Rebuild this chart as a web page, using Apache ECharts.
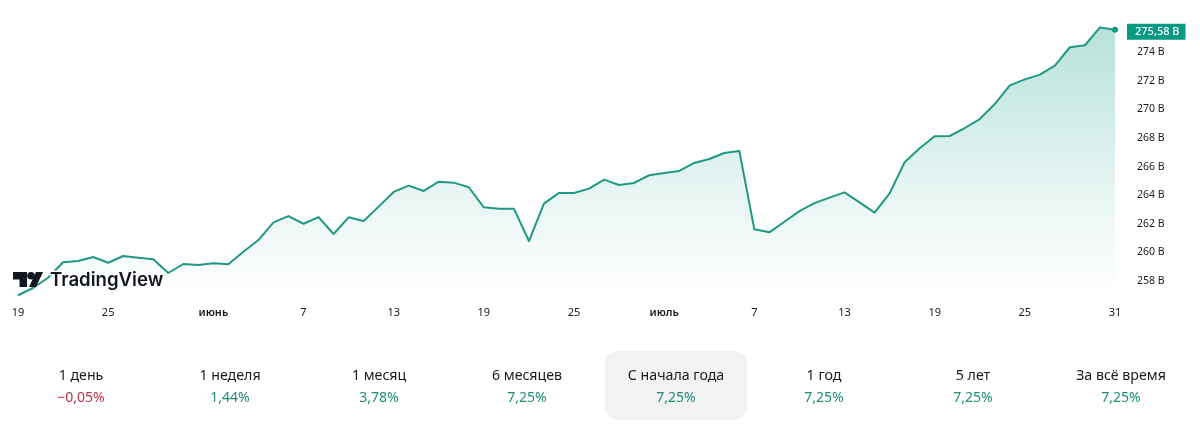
<!DOCTYPE html>
<html><head><meta charset="utf-8">
<style>html,body{margin:0;padding:0;background:#fff}#c{width:1200px;height:435px}</style>
<script src="https://cdn.jsdelivr.net/npm/echarts@6/dist/echarts.min.js"></script>
</head><body><div id="c"></div>
<script>
const tickLabels = {0:'19',6:'25',13:'{b|июнь}',19:'7',25:'13',31:'19',37:'25',43:'{b|июль}',49:'7',55:'13',61:'19',67:'25',73:'31'};
const values = [256.98,257.49,258.21,259.29,259.38,259.66,259.26,259.73,259.61,259.50,258.54,259.17,259.10,259.22,259.15,260.03,260.85,262.09,262.53,261.99,262.46,261.27,262.44,262.18,263.19,264.22,264.66,264.29,264.94,264.87,264.55,263.14,263.05,263.05,260.78,263.40,264.15,264.15,264.45,265.08,264.71,264.85,265.39,265.55,265.69,266.25,266.53,266.95,267.09,261.60,261.39,262.13,262.88,263.44,263.82,264.19,263.49,262.77,264.12,266.30,267.28,268.12,268.14,268.70,269.33,270.38,271.69,272.11,272.44,273.07,274.36,274.50,275.75,275.58];
const categories = values.map((_, i) => String(i));
const lastLabel = '275,58 B';
const periodLabels = ['1 день','1 неделя','1 месяц','6 месяцев','С начала года','1 год','5 лет','За всё время'];
const periodValues = ['−0,05%','1,44%','3,78%','7,25%','7,25%','7,25%','7,25%','7,25%'];
const periodCenters = [81,230,379,527,676,824,973,1121];
const FONT = '"Noto Sans", sans-serif';
const GREEN = '#1f8c7a', RED = '#b8334d';

const graphic = [
  {type:'rect',z:0,shape:{x:605,y:351,width:142,height:69,r:13},style:{fill:'#f2f2f2'}}
];
periodLabels.forEach((t,i)=>{
  graphic.push({type:'text',x:periodCenters[i],y:376,style:{text:t,fill:'#1a1a1a',font:'14.2px '+FONT,align:'center',verticalAlign:'middle'}});
  graphic.push({type:'text',x:periodCenters[i],y:398.5,style:{text:periodValues[i],fill:i===0?RED:GREEN,font:'14px '+FONT,align:'center',verticalAlign:'middle'}});
});
// TradingView watermark
graphic.push(
  {type:'polygon',z:20,shape:{points:[[13,272],[27,272],[27,287],[19.5,287],[19.5,279.5],[13,279.5]]},style:{fill:'#131722'}},
  {type:'circle',z:20,shape:{cx:31,cy:275.8,r:3.8},style:{fill:'#131722'}},
  {type:'polygon',z:20,shape:{points:[[29,287],[36,272],[43,272],[36,287]]},style:{fill:'#131722'}},
  {type:'text',z:20,x:50,y:280,style:{text:'TradingView',fill:'#fff',font:'600 18.6px Inter, sans-serif',verticalAlign:'middle',stroke:'#fff',lineWidth:3}},
  {type:'text',z:21,x:50,y:280,style:{text:'TradingView',fill:'#131722',font:'600 18.6px Inter, sans-serif',verticalAlign:'middle'}}
);

const chart = echarts.init(document.getElementById('c'));
chart.setOption({
  animation:false,
  backgroundColor:'#fff',
  textStyle:{fontFamily:FONT},
  grid:{left:18,right:85,top:9.57,height:299.67},
  xAxis:{type:'category',data:categories,boundaryGap:false,
    axisLine:{show:false},axisTick:{show:false},splitLine:{show:false},
    axisLabel:{interval:i=>tickLabels[i]!==undefined,formatter:(v,i)=>tickLabels[i]||'',
      color:'#1a1a1a',fontSize:11,margin:-2,hideOverlap:false,showMinLabel:true,showMaxLabel:true,
      rich:{b:{fontSize:11,fontWeight:600,color:'#1a1a1a'}}}},
  yAxis:{type:'value',position:'right',min:256,max:277,interval:2,
    axisLine:{show:false},axisTick:{show:false},splitLine:{show:false},
    axisLabel:{formatter:v=>(v===256||v>=276)?'':v+' B',color:'#1a1a1a',fontSize:10.5,margin:22,align:'left',padding:[2,0,0,0]}},
  series:[{type:'line',data:values,symbol:'none',smooth:false,
    lineStyle:{color:'#1f9983',width:2,join:'round'},
    areaStyle:{color:new echarts.graphic.LinearGradient(0,0,0,1,[{offset:0,color:'rgba(8,153,129,0.42)'},{offset:0.55,color:'rgba(8,153,129,0.15)'},{offset:0.95,color:'rgba(8,153,129,0)'}])},
    endLabel:{show:true,formatter:lastLabel,color:'#fff',backgroundColor:'#089981',fontSize:11,fontWeight:500,padding:[3,6,2,8],distance:12,offset:[0,2]},
    markPoint:{silent:true,animation:false,data:[{coord:[categories.length-1,values[values.length-1]],symbol:'circle',symbolSize:6,itemStyle:{color:'#089981'},label:{show:false}}]},
    z:5}],
  graphic:{elements:graphic}
});
</script></body></html>
